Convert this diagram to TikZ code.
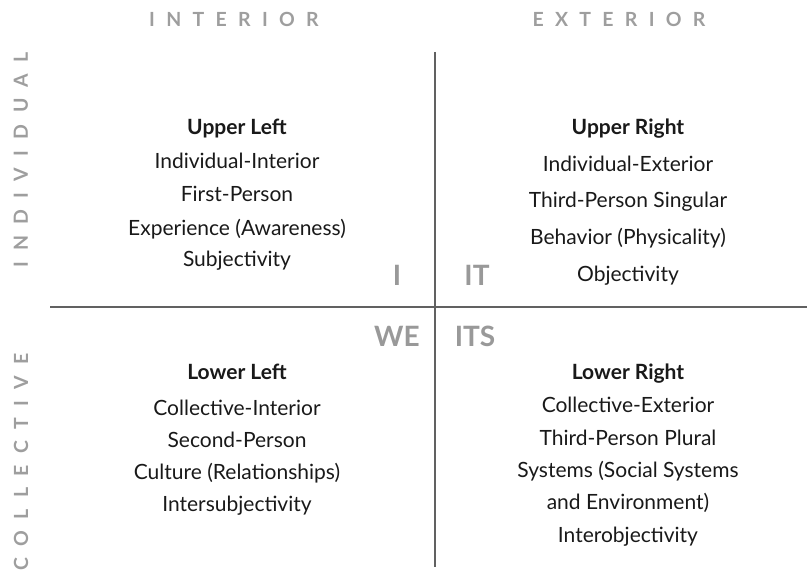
\documentclass[tikz,border=0pt]{standalone}
\usepackage{fontspec}
\setmainfont{Lato}
\newcommand{\lsp}{\hspace{0.58em}}
\begin{document}
\begin{tikzpicture}[x=1pt,y=-1pt,
  body/.style={font=\fontsize{21}{24}\selectfont, text=black!90, inner sep=0pt, anchor=base},
  head/.style={body, font=\fontsize{21}{24}\selectfont\bfseries},
  axis/.style={font=\fontsize{19.5}{22}\selectfont\bfseries, text=black!38, inner sep=0pt},
  big/.style={font=\fontsize{28}{30}\selectfont\bfseries, text=black!40, inner sep=0pt, anchor=base},
  rule/.style={draw=black!62, line width=1.3pt}]
\useasboundingbox (0,0) rectangle (807,575);
% axes
\coordinate (vt) at (435,52);
\coordinate (vb) at (435,567);
\coordinate (hl) at (50,307);
\coordinate (hr) at (807,307);
\draw[rule] (vt) -- (vb);
\draw[rule] (hl) -- (hr);
% axis labels
\node[axis] (interior) at (234,19) {I\lsp N\lsp T\lsp E\lsp R\lsp I\lsp O\lsp R};
\node[axis] (exterior) at (619,19) {E\lsp X\lsp T\lsp E\lsp R\lsp I\lsp O\lsp R};
\node[axis, rotate=90] (individual) at (21,160) {I\lsp N\lsp D\lsp I\lsp V\lsp I\lsp D\lsp U\lsp A\lsp L};
\node[axis, rotate=90] (collective) at (21,462) {C\lsp O\lsp L\lsp L\lsp E\lsp C\lsp T\lsp I\lsp V\lsp E};
% big letters
\node[big] (I) at (397,285) {I};
\node[big] (IT) at (477,285) {IT};
\node[big] (WE) at (397,346) {WE};
\node[big] (ITS) at (475,346) {ITS};
% upper left
\node[head] (ul0) at (237,135) {Upper Left};
\node[body] (ul1) at (237,169) {Individual-Interior};
\node[body] (ul2) at (237,202) {First-Person};
\node[body] (ul3) at (237,236) {Experience (Awareness)};
\node[body] (ul4) at (237,267) {Subjectivity};
% upper right
\node[head] (ur0) at (628,135) {Upper Right};
\node[body] (ur1) at (628,172) {Individual-Exterior};
\node[body] (ur2) at (628,208) {Third-Person Singular};
\node[body] (ur3) at (628,244) {Behavior (Physicality)};
\node[body] (ur4) at (628,281) {Objectivity};
% lower left
\node[head] (ll0) at (237,379) {Lower Left};
\node[body] (ll1) at (237,415) {Collective-Interior};
\node[body] (ll2) at (237,447) {Second-Person};
\node[body] (ll3) at (237,479) {Culture (Relationships)};
\node[body] (ll4) at (237,511) {Intersubjectivity};
% lower right
\node[head] (lr0) at (628,379) {Lower Right};
\node[body] (lr1) at (628,412) {Collective-Exterior};
\node[body] (lr2) at (628,445) {Third-Person Plural};
\node[body] (lr3) at (628,477) {Systems (Social Systems};
\node[body] (lr4) at (628,509) {and Environment)};
\node[body] (lr5) at (628,542) {Interobjectivity};
\end{tikzpicture}
\end{document}
